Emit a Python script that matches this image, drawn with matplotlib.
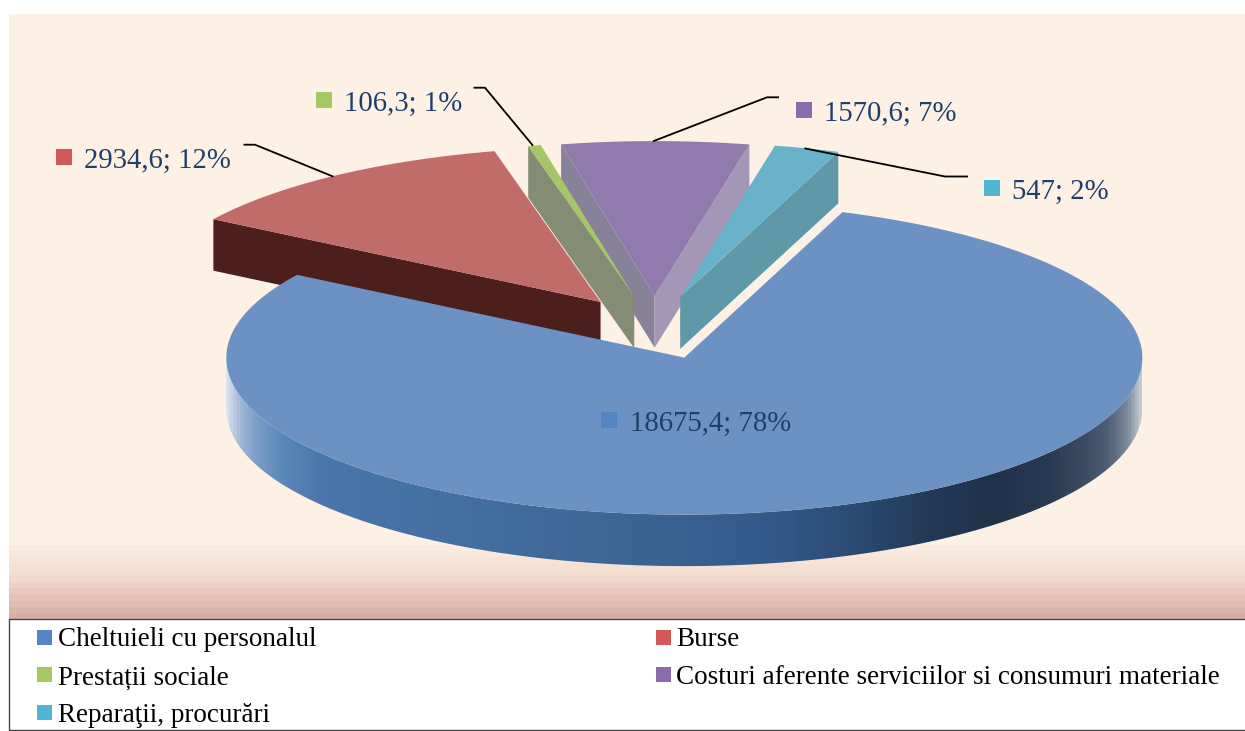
import numpy as np
import matplotlib
matplotlib.use('Agg')
import matplotlib.pyplot as plt
from matplotlib.colors import LinearSegmentedColormap
from matplotlib.patches import Polygon, Rectangle

plt.rcParams['font.family'] = ['Liberation Serif', 'DejaVu Serif']

categories = ['Cheltuieli cu personalul', 'Burse', 'Prestații sociale',
              'Costuri aferente serviciilor si consumuri materiale', 'Reparaţii, procurări']
values = [18675.4, 2934.6, 106.3, 1570.6, 547]
value_labels = ['18675,4', '2934,6', '106,3', '1570,6', '547']
percents = ['78%', '12%', '1%', '7%', '2%']

key_colors = ['#5585c5', '#d15a57', '#a5c95f', '#8a6cad', '#4fb5d2']
top_colors = ['#6c92c3', '#c16c69', '#a6c468', '#917aac', '#69b2c9']

RX, RY_BACK, RY_FRONT = 458, 155, 157
DEPTH = 51.5
CX, CY = 654.5, 327.5
EXPLODE = 0.2025
FIRST_ANGLE = 69.8

fig = plt.figure(figsize=(12.45, 7.31), dpi=100, facecolor='white')
ax = fig.add_axes([0, 0, 1, 1])


def project(x0, y0, t):
    t = np.radians(t)
    s = np.sin(t)
    ry = np.where(s > 0, RY_BACK, RY_FRONT)
    return np.column_stack([x0 + RX * np.cos(t) * np.ones_like(s), y0 - ry * s])


def add_poly(pts, color, z):
    ax.add_patch(Polygon(pts, closed=True, facecolor=color, edgecolor='none', zorder=z))


# background, banded towards the bottom
ax.add_patch(Rectangle((9, 14), 1236, 605, facecolor='#fdf0e5', edgecolor='none', zorder=0))
bands = 12
grad = LinearSegmentedColormap.from_list('bg', ['#fdf0e5', '#f0d9cc', '#d8ada3'])
band_edges = np.linspace(545, 619, bands + 1)
for i in range(bands):
    ax.add_patch(Rectangle((9, band_edges[i]), 1236, band_edges[i + 1] - band_edges[i] + 0.5,
                           facecolor=grad((i + 1) / bands), edgecolor='none', zorder=0.5))

# angles from the values, clockwise from the first slice
fractions = np.array(values) / sum(values)
sweeps = fractions * 360
starts = FIRST_ANGLE - np.concatenate([[0], np.cumsum(sweeps)[:-1]])
ends = starts - sweeps

wall_low = {3: '#a497b5', 4: '#5f98a6'}
wall_high = {1: '#4c1e1c', 2: '#848c74', 3: '#87819a'}
draw_order = [3, 4, 2, 1, 0]

for n, i in enumerate(draw_order):
    lo, hi = ends[i], starts[i]
    if i == 0:
        lo, hi = ends[i] + 360, starts[i] + 360
    mid = (lo + hi) / 2
    apex = project(CX, CY, np.array([mid]))
    ax_x = CX + EXPLODE * (apex[0, 0] - CX)
    ax_y = CY + EXPLODE * (apex[0, 1] - CY)
    arc = project(ax_x, ax_y, np.linspace(lo, hi, 400))
    z = 2 + n
    tip = np.array([ax_x, ax_y])
    if i in wall_high:
        p = arc[-1]
        add_poly([p, tip, tip + [0, DEPTH], p + [0, DEPTH]], wall_high[i], z)
    if i in wall_low:
        p = arc[0]
        add_poly([p, tip, tip + [0, DEPTH], p + [0, DEPTH]], wall_low[i], z)
    if i == 0:
        front = np.linspace(180, 360, 300)
        rim_top = project(ax_x, ax_y, front)
        rim = np.vstack([rim_top, (rim_top + [0, DEPTH])[::-1]])
        rim_patch = Polygon(rim, closed=True, facecolor='none', edgecolor='none')
        ax.add_patch(rim_patch)
        rim_cmap = LinearSegmentedColormap.from_list('rim', [
            (0.0, '#d5e0ee'), (0.015, '#9db5d5'), (0.032, '#7a9dc6'), (0.059, '#5b88b8'),
            (0.103, '#4a76ab'), (0.41, '#3e6796'), (0.60, '#33598a'), (0.68, '#2c4c74'),
            (0.76, '#243b58'), (0.84, '#1f3249'), (0.90, '#293b52'), (0.94, '#3b4c62'),
            (0.965, '#4f5f75'), (0.986, '#7b8a9b'), (1.0, '#c0c8d0')])
        im = ax.imshow(np.linspace(0, 1, 512)[None, :], cmap=rim_cmap, aspect='auto',
                       extent=(ax_x - RX, ax_x + RX, 600, 300), zorder=z, vmin=0, vmax=1)
        im.set_clip_path(rim_patch)
    add_poly(np.vstack([tip, arc]), top_colors[i], z + 0.5)

ax.set_xlim(0, 1245)
ax.set_ylim(731, 0)
ax.axis('off')

# leader lines
leaders = [([243.5, 255, 333.5], [144.7, 144.7, 176.7]),
           ([473.6, 485, 533], [87.7, 87.7, 145.7]),
           ([779, 767, 653], [97.3, 97.3, 141.3]),
           ([804.4, 945, 968], [148.3, 176.5, 176.5])]
for xs, ys in leaders:
    ax.plot(xs, ys, color='black', lw=1.3, zorder=20, solid_capstyle='butt')

# data labels: key square + text
label_pos = {0: (601, 412), 1: (56, 149), 2: (316, 92), 3: (796, 102), 4: (984, 180)}
for i, (x, y) in label_pos.items():
    ax.add_patch(Rectangle((x, y), 16, 16, facecolor=key_colors[i], edgecolor='none', zorder=21))
    ax.text(x + 28.5, y + 9, f'{value_labels[i]}; {percents[i]}', color='#1f3f68', fontsize=20.7,
            va='center_baseline', ha='left', zorder=21)

# legend box
ax.add_patch(Rectangle((9, 619), 1240, 111, facecolor='white', edgecolor='#444444', lw=1, zorder=22))
legend_pos = [(37, 630), (656, 630), (37, 667), (656, 667), (37, 705)]
for i, (x, y) in enumerate(legend_pos):
    ax.add_patch(Rectangle((x, y), 15, 15, facecolor=key_colors[i], edgecolor='none', zorder=23))
    ax.text(x + 21 - (i % 2), y + (7 if i in (0, 1, 4) else 8), categories[i], color='black', fontsize=19.5,
            va='center_baseline', ha='left', zorder=23)

fig.savefig('out.png', dpi=100)
